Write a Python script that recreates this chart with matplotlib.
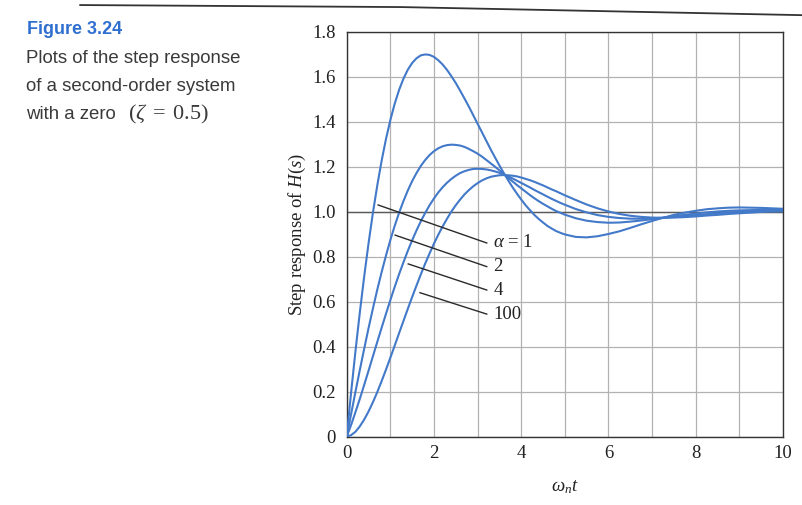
import matplotlib

matplotlib.use("Agg")
import matplotlib.pyplot as plt
from matplotlib.lines import Line2D

plt.rcParams["mathtext.fontset"] = "custom"
plt.rcParams["mathtext.rm"] = "Liberation Serif"
plt.rcParams["mathtext.it"] = "Liberation Serif:italic"

# Step response of a second-order system with a zero, zeta = 0.5
# (fine steps through the rise and overshoot, coarser over the tail)
t = [0.0, 0.1, 0.2, 0.3, 0.4, 0.5, 0.6, 0.7, 0.8, 0.9,
     1.0, 1.1, 1.2, 1.3, 1.4, 1.5, 1.6, 1.7, 1.8, 1.9,
     2.0, 2.1, 2.2, 2.3, 2.4, 2.5, 2.6, 2.7, 2.8, 2.9,
     3.0, 3.1, 3.2, 3.3, 3.4, 3.5, 3.6, 3.7, 3.8, 3.9,
     4.0, 4.1, 4.2, 4.3, 4.4, 4.5, 4.6, 4.7, 4.8, 4.9,
     5.0, 5.25, 5.5, 5.75, 6.0, 6.25, 6.5, 6.75, 7.0, 7.25,
     7.5, 7.75, 8.0, 8.25, 8.5, 8.75, 9.0, 9.25, 9.5, 9.75,
     10.0]
y_a1 = [0.000, 0.195, 0.379, 0.551, 0.711, 0.859, 0.994, 1.116, 1.226, 1.323,
        1.407, 1.480, 1.541, 1.591, 1.631, 1.661, 1.682, 1.695, 1.699, 1.697,
        1.688, 1.673, 1.654, 1.630, 1.602, 1.572, 1.538, 1.503, 1.467, 1.429,
        1.391, 1.353, 1.315, 1.277, 1.241, 1.206, 1.172, 1.140, 1.109, 1.081,
        1.054, 1.029, 1.007, 0.986, 0.968, 0.952, 0.937, 0.925, 0.914, 0.906,
        0.899, 0.888, 0.886, 0.891, 0.901, 0.913, 0.928, 0.944, 0.959, 0.973,
        0.986, 0.996, 1.004, 1.011, 1.015, 1.018, 1.019, 1.018, 1.017, 1.015,
        1.013]
y_a2 = [0.000, 0.100, 0.199, 0.296, 0.390, 0.482, 0.569, 0.653, 0.731, 0.805,
        0.874, 0.937, 0.995, 1.047, 1.094, 1.136, 1.172, 1.204, 1.230, 1.252,
        1.269, 1.282, 1.291, 1.296, 1.298, 1.297, 1.294, 1.288, 1.279, 1.269,
        1.258, 1.245, 1.230, 1.215, 1.200, 1.184, 1.168, 1.151, 1.135, 1.119,
        1.104, 1.089, 1.074, 1.060, 1.047, 1.035, 1.024, 1.013, 1.003, 0.995,
        0.987, 0.971, 0.960, 0.954, 0.951, 0.952, 0.956, 0.961, 0.967, 0.973,
        0.980, 0.986, 0.992, 0.997, 1.001, 1.004, 1.006, 1.007, 1.008, 1.008,
        1.008]
y_a4 = [0.000, 0.052, 0.109, 0.168, 0.230, 0.293, 0.357, 0.421, 0.484, 0.546,
        0.607, 0.666, 0.722, 0.775, 0.826, 0.873, 0.917, 0.958, 0.995, 1.029,
        1.059, 1.086, 1.109, 1.129, 1.146, 1.160, 1.172, 1.180, 1.186, 1.190,
        1.191, 1.190, 1.188, 1.184, 1.179, 1.173, 1.165, 1.157, 1.148, 1.138,
        1.128, 1.118, 1.108, 1.097, 1.087, 1.077, 1.067, 1.057, 1.048, 1.039,
        1.031, 1.012, 0.997, 0.985, 0.977, 0.972, 0.969, 0.969, 0.971, 0.973,
        0.977, 0.981, 0.985, 0.989, 0.993, 0.997, 0.999, 1.002, 1.003, 1.004,
        1.005]
y_a100 = [0.000, 0.007, 0.022, 0.046, 0.076, 0.112, 0.153, 0.198, 0.247, 0.298,
          0.351, 0.405, 0.460, 0.514, 0.568, 0.621, 0.672, 0.722, 0.770, 0.815,
          0.858, 0.898, 0.935, 0.969, 1.001, 1.029, 1.054, 1.077, 1.096, 1.113,
          1.127, 1.139, 1.148, 1.155, 1.159, 1.162, 1.163, 1.162, 1.160, 1.157,
          1.152, 1.146, 1.140, 1.133, 1.125, 1.117, 1.108, 1.099, 1.091, 1.082,
          1.073, 1.052, 1.032, 1.015, 1.001, 0.990, 0.982, 0.977, 0.974, 0.973,
          0.974, 0.976, 0.979, 0.983, 0.986, 0.990, 0.993, 0.996, 0.999, 1.001,
          1.002]
curves = [y_a1, y_a2, y_a4, y_a100]
alpha_labels = [r"$\alpha$ = 1", "2", "4", "100"]
# leader lines from the curves out to the labels
leader_start = [(0.72, 1.03), (1.11, 0.896), (1.41, 0.768), (1.68, 0.64)]
leader_end = [(3.21, 0.861), (3.21, 0.756), (3.21, 0.652), (3.21, 0.545)]

BLUE = "#4379c9"
SERIF = ["Liberation Serif", "DejaVu Serif"]
SANS = ["Liberation Sans", "DejaVu Sans"]

fig = plt.figure(figsize=(8.02, 5.05), dpi=100)
fig.patch.set_facecolor("white")
ax = fig.add_axes([0.4323, 0.1352, 0.544, 0.802])

for y in curves:
    ax.plot(t, y, color=BLUE, lw=1.5, zorder=3, solid_joinstyle="round")

for (x0, y0), (x1, y1), lab in zip(leader_start, leader_end, alpha_labels):
    ax.plot([x0, x1], [y0, y1], color="#2a2a2a", lw=1.0, zorder=4)
    ax.text(x1 + 0.15, y1, lab, family=SERIF, fontsize=13.5, ha="left",
            va="center", color="#222222", zorder=5)

ax.set_xlim(0, 10)
ax.set_ylim(0, 1.8)
ax.set_xticks(range(0, 11, 2))
ax.set_xticks(range(0, 11), minor=True)
ax.set_yticks([i * 0.2 for i in range(10)])
ax.set_yticklabels(["0"] + [f"{i * 0.2:.1f}" for i in range(1, 10)])
ax.grid(True, which="both", color="#b2b2b2", lw=0.9)
ax.axhline(1.0, color="#5a5a5a", lw=1.0, zorder=2)
ax.tick_params(which="both", length=0, labelsize=13.5, colors="#222222")
ax.tick_params(axis="y", pad=8)
ax.tick_params(axis="x", pad=6)
for lab in ax.get_xticklabels() + ax.get_yticklabels():
    lab.set_family(SERIF)
for sp in ax.spines.values():
    sp.set_color("#333333")
    sp.set_linewidth(1.0)

ax.set_ylabel("Step response of $H(s)$", family=SERIF, fontsize=13.5,
              color="#222222", labelpad=3)
ax.set_xlabel(r"$\omega_n t$", fontsize=13.5, color="#222222", labelpad=11)

# caption block on the left
fig.text(0.034, 0.932, "Figure 3.24", family=SANS, fontsize=13,
         fontweight="bold", color="#2f6fd0", va="baseline")
caption = ["Plots of the step response",
           "of a second-order system",
           "with a zero"]
for i, line in enumerate(caption):
    fig.text(0.032, 0.875 - i * 0.0555, line, family=SANS, fontsize=13.4,
             color="#3a3a3a", va="baseline")
fig.text(0.1596, 0.875 - 2 * 0.0555, r"$(\zeta\;=\;0.5)$", fontsize=16,
         color="#3a3a3a", va="baseline")

# page edge along the top
fig.add_artist(Line2D([0.1, 0.5, 1.0], [0.990, 0.986, 0.970], color="#333333",
                      lw=1.3, transform=fig.transFigure))

fig.savefig("out.png", dpi=100)
